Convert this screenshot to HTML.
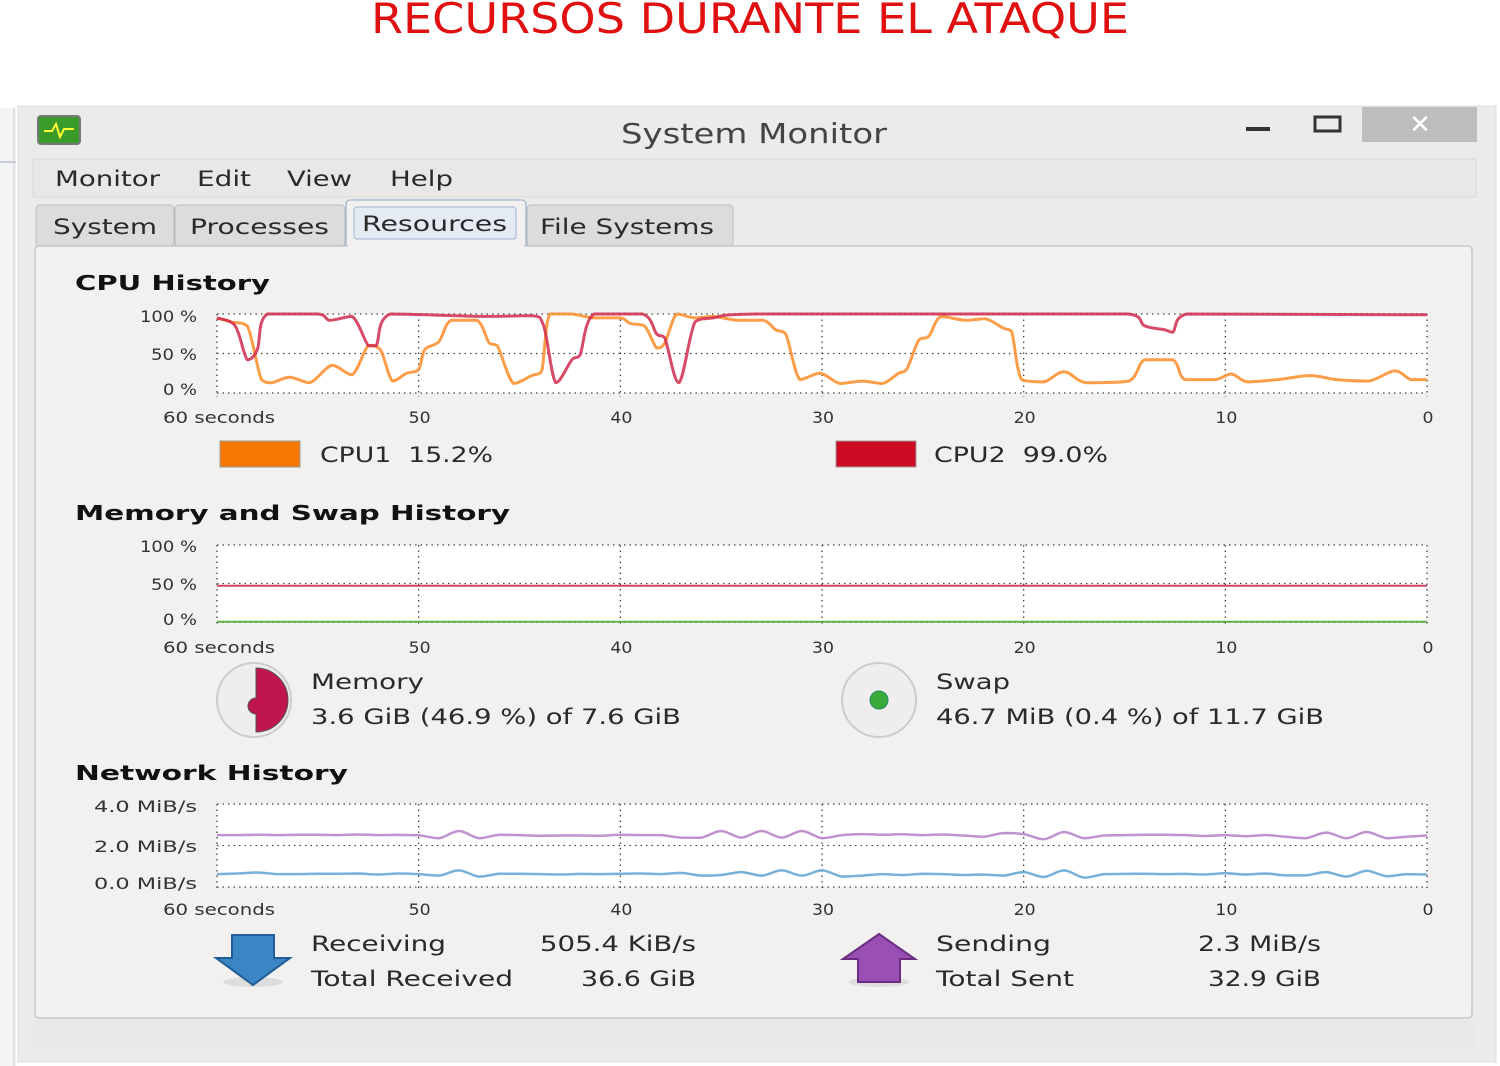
<!DOCTYPE html>
<html><head><meta charset="utf-8"><style>
html,body{margin:0;padding:0;background:#fff;width:1500px;height:1066px;overflow:hidden}
svg{display:block}
text{font-family:"DejaVu Sans","Liberation Sans",sans-serif;fill:#333}
.h{font-weight:bold;font-size:20px;fill:#111}
.t{font-size:16px;fill:#333}
.m{font-size:21px;fill:#2a2a2a}
.g{stroke:#444;stroke-width:1.3;stroke-dasharray:1.5,4;fill:none}
</style></head><body>
<svg id="root" width="1500" height="1066" viewBox="0 0 1500 1066">
<text x="750" y="33" text-anchor="middle" style="font-size:42px;fill:#e01010" textLength="758" lengthAdjust="spacingAndGlyphs">RECURSOS DURANTE EL ATAQUE</text>
<rect x="0" y="108" width="16" height="958" fill="#f4f4f4"/>
<line x1="0" y1="162" x2="16" y2="162" stroke="#9ab"/>
<line x1="14" y1="108" x2="14" y2="1066" stroke="#ccc"/>
<rect x="18" y="106" width="1478" height="956" fill="#ebebea" stroke="#ddd"/>
<rect x="38" y="116" width="42" height="28" rx="3" fill="#3a9a2a" stroke="#777" stroke-width="2"/>
<polyline points="44,131 52,131 56,124 60,137 64,129 74,129" fill="none" stroke="#ff3" stroke-width="2"/>
<text x="621" y="143" style="font-size:28px;fill:#444" textLength="266" lengthAdjust="spacingAndGlyphs">System Monitor</text>
<rect x="1246" y="127" width="24" height="4" fill="#333"/>
<rect x="1315" y="117" width="25" height="14" fill="none" stroke="#333" stroke-width="3"/>
<rect x="1362" y="107" width="115" height="35" fill="#bdbdbd"/>
<text x="1420" y="133" text-anchor="middle" style="font-size:26px;fill:#fff">✕</text>
<rect x="33" y="159" width="1443" height="38" fill="#e9e8e7" stroke="#d8d8d8"/>
<text x="55" y="186" class="m" textLength="105" lengthAdjust="spacingAndGlyphs">Monitor</text>
<text x="197" y="186" class="m" textLength="54" lengthAdjust="spacingAndGlyphs">Edit</text>
<text x="287" y="186" class="m" textLength="65" lengthAdjust="spacingAndGlyphs">View</text>
<text x="390" y="186" class="m" textLength="63" lengthAdjust="spacingAndGlyphs">Help</text>
<rect x="36" y="205" width="138" height="42" rx="4" fill="#dddcdb" stroke="#bbb"/>
<text x="53" y="234" class="m" textLength="104" lengthAdjust="spacingAndGlyphs">System</text>
<rect x="175" y="205" width="170" height="42" rx="4" fill="#dddcdb" stroke="#bbb"/>
<text x="190" y="234" class="m" textLength="139" lengthAdjust="spacingAndGlyphs">Processes</text>
<rect x="346" y="200" width="180" height="48" rx="4" fill="#f2f1f0" stroke="#88a8cc"/>
<rect x="354" y="207" width="162" height="32" rx="3" fill="#e4ebf3" stroke="#9bb3d0"/>
<text x="362" y="231" class="m" textLength="145" lengthAdjust="spacingAndGlyphs">Resources</text>
<rect x="527" y="205" width="206" height="42" rx="4" fill="#dddcdb" stroke="#bbb"/>
<text x="540" y="234" class="m" textLength="174" lengthAdjust="spacingAndGlyphs">File Systems</text>
<rect x="35" y="246" width="1437" height="772" rx="4" fill="#f2f1f0" stroke="#b5b5b5"/>
<rect x="348" y="244" width="176" height="4" fill="#f2f1f0"/>
<rect x="33" y="1020" width="1443" height="28" fill="#e9e8e7"/>
<text x="75" y="290" class="h" textLength="195" lengthAdjust="spacingAndGlyphs">CPU History</text>
<text x="75" y="520" class="h" textLength="435" lengthAdjust="spacingAndGlyphs">Memory and Swap History</text>
<text x="75" y="780" class="h" textLength="273" lengthAdjust="spacingAndGlyphs">Network History</text>
<g id="charts"></g>
<rect x="220" y="441" width="80" height="26" fill="#f57900" stroke="#999"/>
<text x="320" y="462" class="m" textLength="173" lengthAdjust="spacingAndGlyphs" xml:space="preserve">CPU1  15.2%</text>
<rect x="836" y="441" width="80" height="26" fill="#cc0a22" stroke="#999"/>
<text x="934" y="462" class="m" textLength="174" lengthAdjust="spacingAndGlyphs" xml:space="preserve">CPU2  99.0%</text>
<g>
<circle cx="254" cy="700" r="37" fill="#efeeed" stroke="#ccc" stroke-width="2"/>
<path d="M256,668 A32,32 0 0 1 256,732 L256,714 A8,8 0 0 1 256,698 Z" fill="#c0154f" stroke="#555"/>
</g>
<text x="311" y="689" class="m" textLength="113" lengthAdjust="spacingAndGlyphs">Memory</text>
<text x="311" y="724" class="m" textLength="370" lengthAdjust="spacingAndGlyphs">3.6 GiB (46.9 %) of 7.6 GiB</text>
<g>
<circle cx="879" cy="700" r="37" fill="#efeeed" stroke="#ccc" stroke-width="2"/>
<circle cx="879" cy="700" r="9" fill="#3aaa3a" stroke="#286"/>
</g>
<text x="936" y="689" class="m" textLength="74" lengthAdjust="spacingAndGlyphs">Swap</text>
<text x="936" y="724" class="m" textLength="388" lengthAdjust="spacingAndGlyphs">46.7 MiB (0.4 %) of 11.7 GiB</text>
<ellipse cx="253" cy="982" rx="30" ry="5" fill="#ddd"/>
<path d="M232,935 H274 V958 H290 L253,985 L216,958 H232 Z" fill="#3a86c4" stroke="#1f5d94" stroke-width="2"/>
<text x="311" y="951" class="m" textLength="135" lengthAdjust="spacingAndGlyphs">Receiving</text>
<text x="540" y="951" class="m" textLength="156" lengthAdjust="spacingAndGlyphs">505.4 KiB/s</text>
<text x="311" y="986" class="m" textLength="202" lengthAdjust="spacingAndGlyphs">Total Received</text>
<text x="581" y="986" class="m" textLength="115" lengthAdjust="spacingAndGlyphs">36.6 GiB</text>
<ellipse cx="879" cy="982" rx="30" ry="5" fill="#ddd"/>
<path d="M858,982 H900 V959 H915 L879,934 L843,959 H858 Z" fill="#9a4fb4" stroke="#6a2e80" stroke-width="2"/>
<text x="936" y="951" class="m" textLength="115" lengthAdjust="spacingAndGlyphs">Sending</text>
<text x="1198" y="951" class="m" textLength="123" lengthAdjust="spacingAndGlyphs">2.3 MiB/s</text>
<text x="936" y="986" class="m" textLength="138" lengthAdjust="spacingAndGlyphs">Total Sent</text>
<text x="1208" y="986" class="m" textLength="113" lengthAdjust="spacingAndGlyphs">32.9 GiB</text>
</svg>
<script>
const cpu1Times=[60,59.3,58.5,57.8,57.3,56.4,55.4,54.3,53.3,52.5,51.9,51.3,50.6,50,49.7,49,48.4,47.1,46.5,46.1,45.3,44.4,43.9,43.5,42.4,41.3,40,39.5,38.8,38.2,37.8,37.2,36.3,35.4,34.2,32.9,32.3,31.8,31.1,30.1,29.1,28,27,26.2,25.8,25.2,24.7,24.1,22.9,21.9,21,20.6,20.1,19,18,16.9,14.8,14,12.6,12,10.5,9.7,8.9,7.4,5.8,4.5,2.9,1.6,0.8,0];
const cpu1Values=[95,90,85,17,13,20,13,35,23,60,55,15,25,30,55,65,92,92,63,60,12,22,28,100,100,95,95,88,85,57,63,100,95,97,92,92,80,75,17,25,12,15,12,25,30,67,72,97,92,94,82,78,17,14,27,13,15,42,42,17,17,24,14,17,22,17,15,28,17,17];
const cpu2Times=[60,59.1,58.5,58,57.5,55,54.4,53.3,52.5,52.1,51.4,46.7,44.4,43.8,43.2,42.4,42,41.3,38.9,38.2,37.8,37.1,36.3,35.4,33.3,14.8,14,13,12.6,11.9,0];
const cpu2Values=[95,85,42,55,100,100,92,97,60,60,100,97,98,85,13,42,48,100,100,75,70,13,90,95,100,100,85,80,77,100,99];
const memValues=[47,47];
const swapValues=[0.4,0.4];
const sendValues=[2.5,2.5,2.52,2.5,2.52,2.52,2.5,2.53,2.5,2.51,2.49,2.35,2.7,2.35,2.52,2.5,2.47,2.48,2.48,2.47,2.52,2.5,2.5,2.38,2.37,2.7,2.38,2.7,2.38,2.7,2.35,2.5,2.55,2.52,2.54,2.5,2.53,2.48,2.42,2.6,2.55,2.3,2.65,2.35,2.48,2.5,2.52,2.52,2.5,2.46,2.5,2.45,2.5,2.42,2.35,2.62,2.35,2.65,2.35,2.42,2.48];
const recvValues=[0.62,0.65,0.7,0.62,0.62,0.64,0.64,0.65,0.6,0.65,0.62,0.55,0.8,0.5,0.64,0.64,0.62,0.6,0.63,0.62,0.64,0.65,0.62,0.68,0.55,0.58,0.72,0.55,0.8,0.55,0.8,0.5,0.55,0.62,0.58,0.64,0.62,0.58,0.6,0.55,0.72,0.48,0.8,0.45,0.62,0.63,0.64,0.62,0.63,0.6,0.66,0.6,0.65,0.56,0.56,0.72,0.5,0.78,0.52,0.62,0.6];
const xTicks=["60 seconds","50","40","30","20","10","0"];
const cpuTicks=["100 %","50 %","0 %"];
const netTicks=["4.0 MiB/s","2.0 MiB/s","0.0 MiB/s"];

const NS="http://www.w3.org/2000/svg";
const g=document.getElementById('charts');
const X0=217,X1=1427;
function xOf(t){return X0+(60-t)/60*(X1-X0);}
function mk(tag,attrs,parent){const e=document.createElementNS(NS,tag);for(const k in attrs)e.setAttribute(k,attrs[k]);(parent||g).appendChild(e);return e;}
function clamp(v,a,b){const lo=Math.min(a,b),hi=Math.max(a,b);return Math.max(lo,Math.min(hi,v));}
function smoothPath(pts){
  let d='M'+pts[0][0].toFixed(1)+','+pts[0][1].toFixed(1);
  for(let i=0;i<pts.length-1;i++){
    const p0=pts[Math.max(0,i-1)],p1=pts[i],p2=pts[i+1],p3=pts[Math.min(pts.length-1,i+2)];
    const c1=[clamp(p1[0]+(p2[0]-p0[0])/6,p1[0],p2[0]),clamp(p1[1]+(p2[1]-p0[1])/6,p1[1],p2[1])];
    const c2=[clamp(p2[0]-(p3[0]-p1[0])/6,p1[0],p2[0]),clamp(p2[1]-(p3[1]-p1[1])/6,p1[1],p2[1])];
    d+='C'+c1[0].toFixed(1)+','+c1[1].toFixed(1)+' '+c2[0].toFixed(1)+','+c2[1].toFixed(1)+' '+p2[0].toFixed(1)+','+p2[1].toFixed(1);
  }
  return d;
}
function chart(name,yTop,yBot,maxV,ticks,labelY,xLabelY){
  const cg=mk('g',{});
  
  
  const bg=mk('rect',{x:X0,y:yTop,width:X1-X0,height:yBot-yTop,fill:'#fff'},cg);
  
  
  [yTop,(yTop+yBot)/2,yBot].forEach(y=>mk('line',{x1:X0,y1:y,x2:X1,y2:y,class:'g'},cg));
  for(let i=0;i<=6;i++){const x=xOf(60-i*10);mk('line',{x1:x,y1:yTop,x2:x,y2:yBot+4,class:'g'},cg);}
  ticks.forEach((s,i)=>{const t=mk('text',{x:197,y:labelY[i],'text-anchor':'end',class:'t',textLength:(s.length*11.4).toFixed(0),lengthAdjust:'spacingAndGlyphs'},cg);t.textContent=s;
    
    });
  xTicks.forEach((s,i)=>{const x=xOf(60-i*10);const t=mk('text',{x:i==0?163:x+1,y:xLabelY,'text-anchor':i==0?'start':'middle',class:'t',textLength:(s.length*11.2).toFixed(0),lengthAdjust:'spacingAndGlyphs'},cg);t.textContent=s;
    
    });
  return {cg,y:v=>yBot-v/maxV*(yBot-yTop)};
}
function series(c,name,times,vals,color,w){
  const pts=times.map((t,i)=>[xOf(t),c.y(vals[i])]);
  const p=mk('path',{d:smoothPath(pts),fill:'none',stroke:color,'stroke-width':w,'stroke-linejoin':'round','stroke-opacity':0.85},c.cg);
  
  
}
const secs=Array.from({length:61},(_,i)=>60-i);
const cpu=chart('cpu-chart',314,393,100,cpuTicks,[322,360,395],423);
series(cpu,'cpu1-line',cpu1Times,cpu1Values,'#fb8c2a',3);
series(cpu,'cpu2-line',cpu2Times,cpu2Values,'#d02a4e',3);
const mem=chart('memory-chart',545,622,100,cpuTicks,[552,590,625],653);
series(mem,'memory-line',[60,0],memValues,'#c8264e',2);
series(mem,'swap-line',[60,0],swapValues,'#4aa82a',2);
const net=chart('network-chart',804,887,4,netTicks,[812,852,889],915);
series(net,'sending-line',secs,sendValues,'#b57fc8',2.5);
series(net,'receiving-line',secs,recvValues,'#5fa3d3',2.5);
</script>
</body></html>
